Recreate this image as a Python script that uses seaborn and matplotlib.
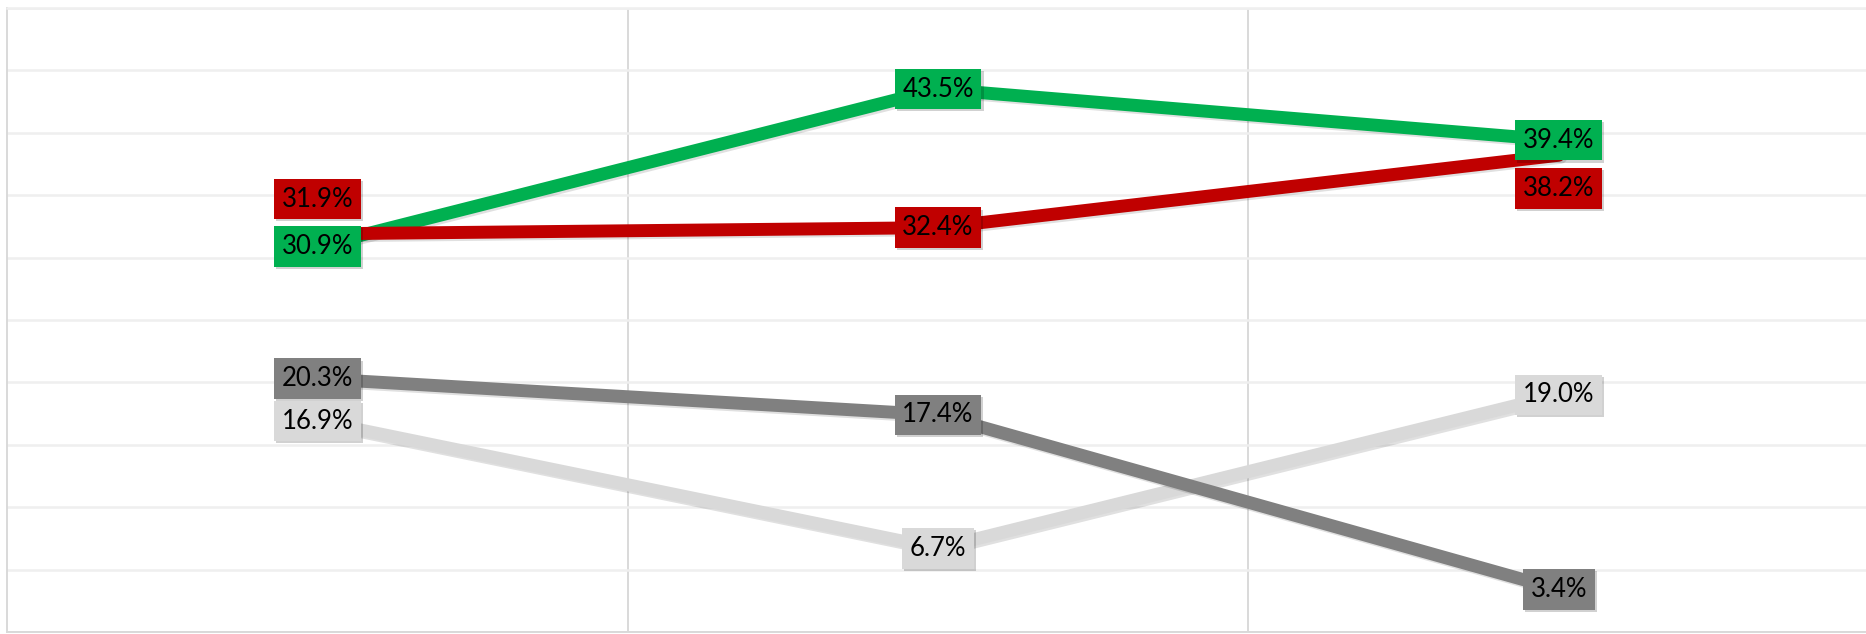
import pandas as pd
import matplotlib.pyplot as plt
import matplotlib.patheffects as pe
import seaborn as sns

# data
periods = ["P1", "P2", "P3"]
series_names = ["light", "dark", "green", "red"]
light_vals = [16.9, 6.7, 19.0]
dark_vals = [20.3, 17.4, 3.4]
green_vals = [30.9, 43.5, 39.4]
red_vals = [31.9, 32.4, 38.2]

colors = {"light": "#D9D9D9", "dark": "#808080", "green": "#00B050", "red": "#C00000"}
# label offsets in points (only two labels are shifted off their point)
offsets = {("red", 0): 25, ("red", 2): -24}

rows = []
for name, vals in zip(series_names, [light_vals, dark_vals, green_vals, red_vals]):
    for p, v in zip(periods, vals):
        rows.append({"period": p, "series": name, "value": v})
df = pd.DataFrame(rows)

sns.set_theme(style="white")
plt.rcParams['font.family'] = ['Lato', 'DejaVu Sans']

fig = plt.figure(figsize=(18.66, 6.34), dpi=100)
ax = fig.add_axes([7 / 1866, 2 / 634, 1862 / 1866, 624 / 634])

sns.lineplot(data=df, x="period", y="value", hue="series", hue_order=series_names,
             palette=colors, linewidth=9.3, legend=False, sort=False, ax=ax,
             path_effects=[pe.SimpleLineShadow(offset=(1.5, -1.5), shadow_color="#000000", alpha=0.12),
                           pe.Normal()])

ax.set_xlim(-0.5, 2.5)
ax.set_ylim(0, 50)
ax.set_yticks(range(0, 51, 5))
ax.grid(axis="y", color="#EFEFEF", linewidth=1.8, zorder=0)
ax.set_xticks([])
ax.set_xticks([0.5, 1.5], minor=True)
ax.grid(axis="x", which="minor", color="#D9D9D9", linewidth=1.4, zorder=0)
ax.set_axisbelow(True)
ax.tick_params(which="both", left=False, bottom=False, labelleft=False, labelbottom=False)
ax.set_xlabel("")
ax.set_ylabel("")
for s in ax.spines.values():
    s.set_color("#D9D9D9")
    s.set_linewidth(1.4)
ax.spines["top"].set_color("#EFEFEF")
ax.spines["top"].set_linewidth(1.8)
ax.spines["right"].set_visible(False)

for name, vals in zip(series_names, [light_vals, dark_vals, green_vals, red_vals]):
    for i, v in enumerate(vals):
        t = ax.annotate(f"{v:.1f}%", (i, v), xytext=(0, offsets.get((name, i), 0)),
                        textcoords="offset points", ha="center", va="center",
                        fontsize=18.5, color="black", zorder=10,
                        bbox=dict(boxstyle="square,pad=0.3", fc=colors[name], ec="none"))
        t.get_bbox_patch().set_path_effects([
            pe.SimplePatchShadow(offset=(1.5, -1.5), shadow_rgbFace="#000000", alpha=0.18),
            pe.Normal()])

fig.savefig("out.png", dpi=100)
